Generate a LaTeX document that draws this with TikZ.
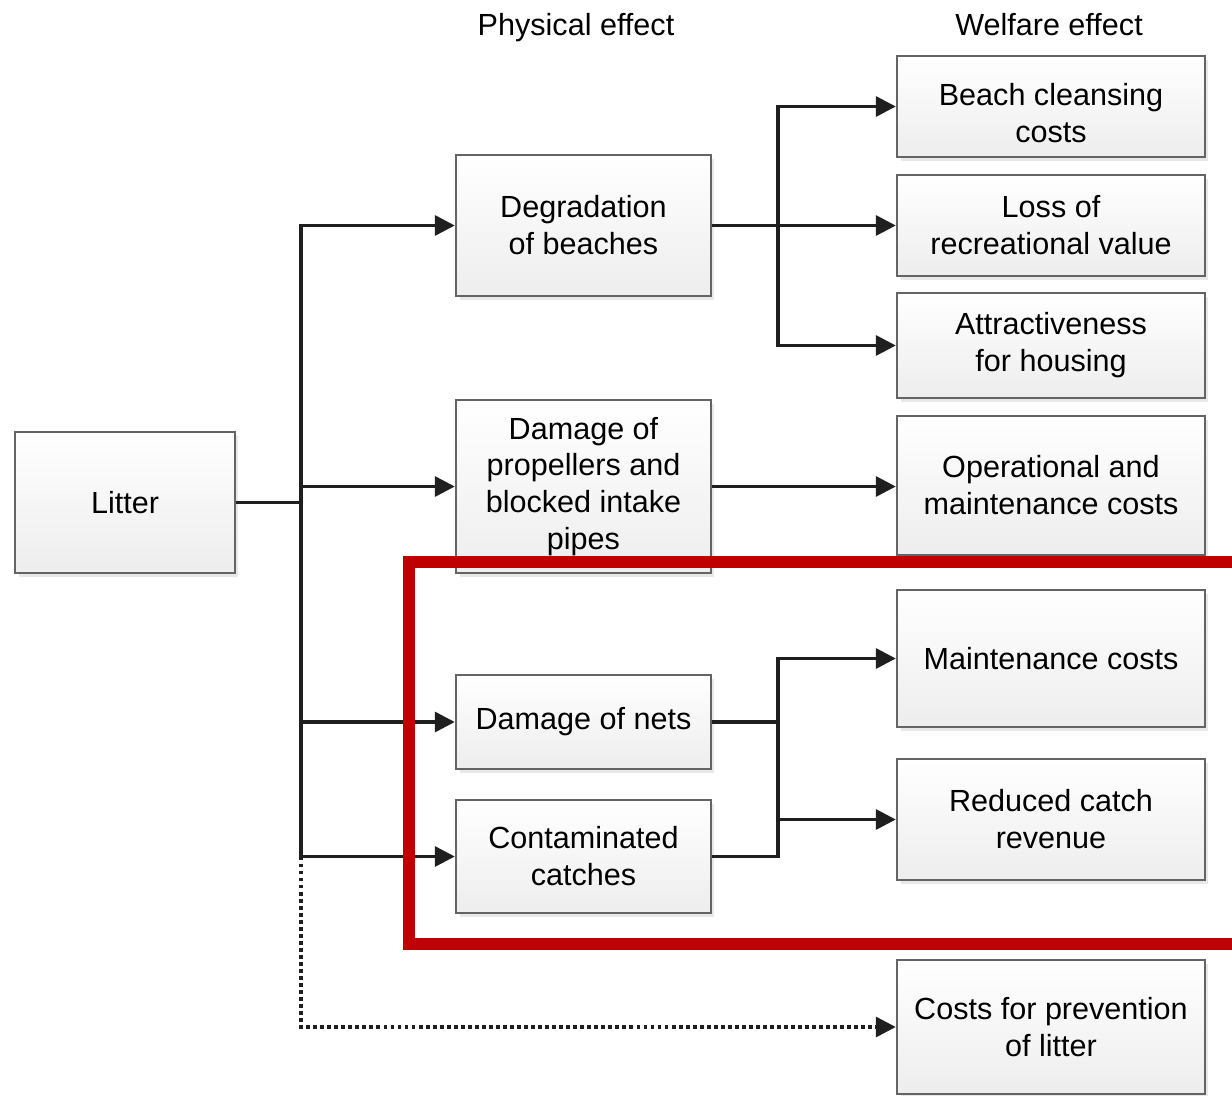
\documentclass[tikz,border=0pt]{standalone}
\usepackage{fontspec}
\setmainfont{Liberation Sans}
\usetikzlibrary{arrows.meta,shadows,positioning}
\definecolor{boxline}{HTML}{646464}
\definecolor{markred}{HTML}{C00000}
\tikzset{
  box/.style={draw=boxline, line width=1.4pt, top color=white, bottom color=gray!14,
    drop shadow={opacity=0.18, shadow xshift=2pt, shadow yshift=-2pt},
    align=center, inner sep=0pt, font=\fontsize{17.4}{21}\selectfont},
  physbox/.style={box, minimum width=5.1cm},
  welfbox/.style={box, minimum width=6.16cm},
  head/.style={font=\fontsize{17.4}{21}\selectfont, anchor=base},
  link/.style={line width=1.9pt, draw=black!88},
  arr/.style={link, -{Triangle[length=0.4cm,width=0.4cm]}},
  dotlink/.style={arr, dash pattern=on 2.2pt off 1.8pt}
}
\begin{document}
\begin{tikzpicture}[x=0.02cm,y=-0.02cm]
  \useasboundingbox (0,0) rectangle (1232,1096);
  \clip (0,0) rectangle (1232,1096);
  % column heads
  \node[head] (physhead) at (576,35) {Physical effect};
  \node[head] (welfhead) at (1049,35) {Welfare effect};
  % source
  \node[box, minimum width=4.4cm, minimum height=2.82cm] (litter) at (125,502.5) {Litter};
  % physical effects
  \node[physbox, minimum height=2.82cm] (degr) at (583.5,225.5) {Degradation\\of beaches};
  \node[physbox, minimum height=3.46cm] (prop) at (583.5,486.5) {Damage of\\propellers and\\blocked intake\\pipes};
  \node[physbox, minimum height=1.88cm] (nets) at (583.5,722) {Damage of nets};
  \node[physbox, minimum height=2.26cm] (catch) at (583.5,856.5) {Contaminated\\catches};
  % welfare effects
  \node[welfbox, minimum height=2.02cm] (beach) at (1051,106.5) {\raisebox{-0.36cm}[0pt][0pt]{\begin{tabular}{@{}c@{}}Beach cleansing\\costs\end{tabular}}};
  \node[welfbox, minimum height=2.02cm] (loss) at (1051,225.5) {Loss of\\recreational value};
  \node[welfbox, minimum height=2.1cm] (attr) at (1051,345.5) {Attractiveness\\for housing};
  \node[welfbox, minimum height=2.78cm] (oper) at (1051,485.5) {Operational and\\maintenance costs};
  \node[welfbox, minimum height=2.74cm] (maint) at (1051,658.5) {Maintenance costs};
  \node[welfbox, minimum height=2.42cm] (reduced) at (1051,819.5) {Reduced catch\\revenue};
  \node[welfbox, minimum height=2.68cm] (prev) at (1051,1027) {Costs for prevention\\of litter};
  % branch points
  \coordinate (trunk) at (301,502.5);
  \coordinate (split1) at (778,225.5);
  \coordinate (split2) at (778,722);
  % litter to physical effects
  \draw[link] (litter.east) -- (trunk);
  \draw[arr] (trunk) |- (degr.west);
  \draw[arr] (trunk) |- (prop.west);
  \draw[arr] (trunk) |- (nets.west);
  \draw[arr] (trunk) |- (catch.west);
  \draw[dotlink] (trunk |- catch.west) |- (prev.west);
  % physical to welfare effects
  \draw[link] (degr.east) -- (split1);
  \draw[arr] (split1) |- (beach.west);
  \draw[arr] (split1) -- (loss.west);
  \draw[arr] (split1) |- (attr.west);
  \draw[arr] (prop.east) -- (prop.east -| oper.west);
  \draw[link] (nets.east) -- (split2);
  \draw[link] (catch.east) -| (split2);
  \draw[arr] (split2) |- (maint.west);
  \draw[arr] (split2 |- reduced.west) -- (reduced.west);
  % highlight
  \draw[markred, line width=0.23cm] (409,562) rectangle (1260,944);
\end{tikzpicture}
\end{document}
